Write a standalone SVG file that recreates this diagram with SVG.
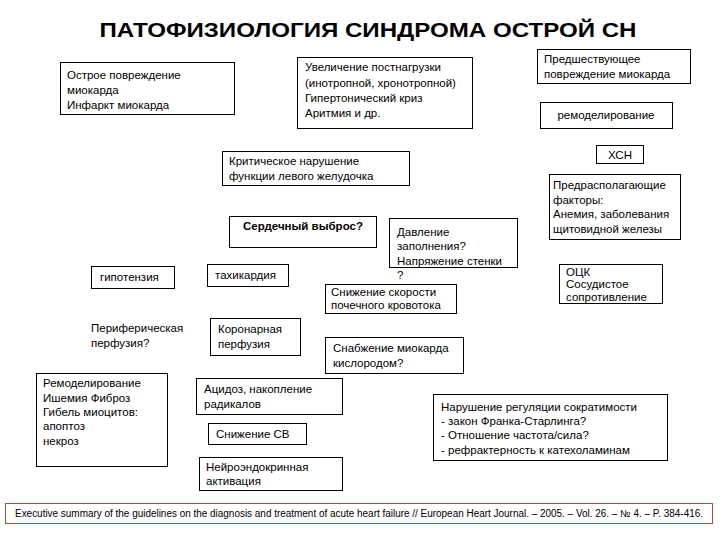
<svg xmlns="http://www.w3.org/2000/svg" width="720" height="540" viewBox="0 0 720 540">
<style>
.b{fill:#fff;stroke:#000;stroke-width:1}
text{font-family:"Liberation Sans",Arial,sans-serif;font-size:11.5px;fill:#000}
.t{font-size:20px;font-weight:bold}
.bold{font-weight:bold}
.f{font-size:10px}
</style>
<rect width="720" height="540" fill="#fff"/>
<text class="t" x="368" y="37" text-anchor="middle" textLength="537" lengthAdjust="spacingAndGlyphs">ПАТОФИЗИОЛОГИЯ СИНДРОМА ОСТРОЙ СН</text>
<g id="connectors"></g>
<g id="n1"><rect class="b" x="60.5" y="62.5" width="174" height="52"/><text x="67" y="79">Острое повреждение</text><text x="67" y="94">миокарда</text><text x="67" y="109">Инфаркт миокарда</text></g>
<g id="n2"><rect class="b" x="297.5" y="57.5" width="175" height="71"/><text x="305" y="71">Увеличение постнагрузки</text><text x="305" y="87">(инотропной, хронотропной)</text><text x="305" y="102">Гипертонический криз</text><text x="305" y="117">Аритмия и др.</text></g>
<g id="n3"><rect class="b" x="537.5" y="49.5" width="153" height="34"/><text x="544" y="63">Предшествующее</text><text x="544" y="78">повреждение миокарда</text></g>
<g id="n4"><rect class="b" x="540.5" y="102.5" width="132" height="26"/><text x="606" y="119" text-anchor="middle">ремоделирование</text></g>
<g id="n5"><rect class="b" x="222.5" y="151.5" width="187" height="34"/><text x="229" y="165">Критическое нарушение</text><text x="229" y="180">функции левого желудочка</text></g>
<g id="n6"><rect class="b" x="596.5" y="145.5" width="47" height="18"/><text x="620" y="159" text-anchor="middle">ХСН</text></g>
<g id="n7"><rect class="b" x="549.5" y="174.5" width="131" height="65"/><text x="553" y="189">Предрасполагающие</text><text x="553" y="204">факторы:</text><text x="553" y="218">Анемия, заболевания</text><text x="553" y="233">щитовидной железы</text></g>
<g id="n8"><rect class="b" x="229.5" y="216.5" width="147" height="31"/><text class="bold" x="303" y="230" text-anchor="middle">Сердечный выброс?</text></g>
<g id="n9"><rect class="b" x="389.5" y="218.5" width="128" height="49"/><text x="397" y="236">Давление</text><text x="397" y="250">заполнения?</text><text x="397" y="265">Напряжение стенки</text><text x="397" y="279">?</text></g>
<g id="n10"><rect class="b" x="91.5" y="266.5" width="83" height="22"/><text x="100" y="281">гипотензия</text></g>
<g id="n11"><rect class="b" x="207.5" y="264.5" width="81" height="22"/><text x="215" y="279">тахикардия</text></g>
<g id="n12"><rect class="b" x="325.5" y="284.5" width="131" height="29"/><text x="331" y="296">Снижение скорости</text><text x="331" y="309">почечного кровотока</text></g>
<g id="n13"><rect class="b" x="559.5" y="264.5" width="103" height="39"/><text x="566" y="276">ОЦК</text><text x="566" y="288">Сосудистое</text><text x="566" y="301">сопротивление</text></g>
<g id="n14"><text x="91" y="332">Периферическая</text><text x="91" y="347">перфузия?</text></g>
<g id="n15"><rect class="b" x="210.5" y="318.5" width="90" height="37"/><text x="218" y="333">Коронарная</text><text x="218" y="348">перфузия</text></g>
<g id="n16"><rect class="b" x="325.5" y="337.5" width="138" height="36"/><text x="333" y="352">Снабжение миокарда</text><text x="333" y="367">кислородом?</text></g>
<g id="n17"><rect class="b" x="36.5" y="373.5" width="131" height="93"/><text x="43" y="387">Ремоделирование</text><text x="43" y="402">Ишемия Фиброз</text><text x="43" y="416">Гибель миоцитов:</text><text x="43" y="430">апоптоз</text><text x="43" y="445">некроз</text></g>
<g id="n18"><rect class="b" x="196.5" y="378.5" width="146" height="36"/><text x="204" y="393">Ацидоз, накопление</text><text x="204" y="408">радикалов</text></g>
<g id="n19"><rect class="b" x="433.5" y="394.5" width="234" height="66"/><text x="441" y="411">Нарушение регуляции сократимости</text><text x="441" y="425">- закон Франка-Старлинга?</text><text x="441" y="439">- Отношение частота/сила?</text><text x="441" y="454">- рефрактерность к катехоламинам</text></g>
<g id="n20"><rect class="b" x="208.5" y="423.5" width="98" height="21"/><text x="216" y="438">Снижение СВ</text></g>
<g id="n21"><rect class="b" x="199.5" y="457.5" width="143" height="33"/><text x="206" y="471">Нейроэндокринная</text><text x="206" y="485">активация</text></g>
<g id="footer"><rect x="5.5" y="503.5" width="707" height="20" fill="#fff" stroke="#a0523c" stroke-width="1"/><text class="f" x="15" y="517" textLength="688" lengthAdjust="spacingAndGlyphs">Executive summary of the guidelines on the diagnosis and treatment of acute heart failure // European Heart Journal. – 2005. – Vol. 26. – № 4. – P. 384-416.</text></g>
</svg>
